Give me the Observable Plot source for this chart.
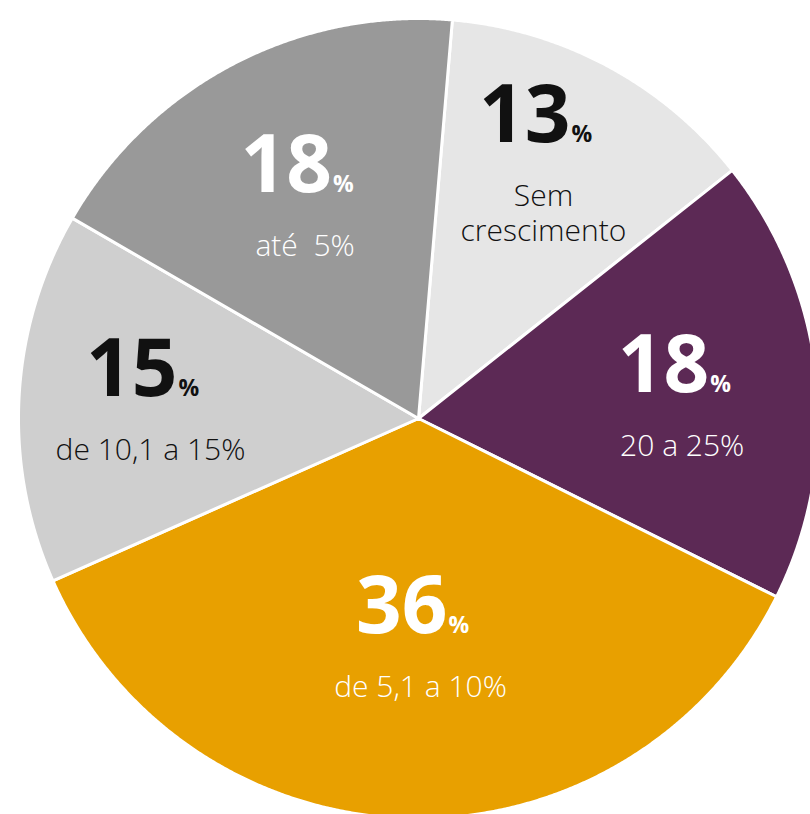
<!DOCTYPE html>
<html>
<head>
<meta charset="utf-8">
<script src="https://cdn.jsdelivr.net/npm/d3@7"></script>
<script src="https://cdn.jsdelivr.net/npm/@observablehq/plot@0.6"></script>
<style>
  html, body { margin: 0; padding: 0; background: #fff; overflow: hidden; }
  #chart svg { display: block; }
</style>
</head>
<body>
<div id="chart"></div>
<script>
// ---- data (clockwise from the top) ----
const categories = ["Sem crescimento", "20 a 25%", "de 5,1 a 10%", "de 10,1 a 15%", "até  5%"];
const subtitles = ["Sem\ncrescimento", "20 a 25%", "de 5,1 a 10%", "de 10,1 a 15%", "até  5%"];
const values = [13, 18, 36, 15, 18];

// ---- style / layout ----
const colors = {
  "Sem crescimento": "#e6e6e6",
  "20 a 25%": "#5c2955",
  "de 5,1 a 10%": "#e8a000",
  "de 10,1 a 15%": "#cfcfcf",
  "até  5%": "#999999"
};
const textColors = {
  "Sem crescimento": "#111111",
  "20 a 25%": "#ffffff",
  "de 5,1 a 10%": "#ffffff",
  "de 10,1 a 15%": "#111111",
  "até  5%": "#ffffff"
};
// label placement: radius and angle nudge (degrees)
const labelLayout = {
  "Sem crescimento": {r: 303, da: -3.9},
  "20 a 25%": {r: 265, da: 0.3},
  "de 5,1 a 10%": {r: 215, da: -1.8},
  "de 10,1 a 15%": {r: 269, da: 1.8},
  "até  5%": {r: 253, da: 0.9}
};
const W = 810, H = 814;
const R = 400;            // pie radius in plot units (1 unit = 1px)
const CX = 418, CY = 418; // centre position in the frame
const startDeg = 4.86;    // rotation of the first slice boundary from north

const total = d3.sum(values);
const rad = d => d * Math.PI / 180;

// build slices
let acc = startDeg;
const slices = categories.map((c, i) => {
  const a0 = acc;
  const a1 = acc + values[i] / total * 360;
  acc = a1;
  const pts = [{x: 0, y: 0}];
  const n = Math.max(2, Math.ceil((a1 - a0) / 0.25));
  for (let k = 0; k <= n; k++) {
    const a = rad(a0 + (a1 - a0) * k / n);
    pts.push({x: R * Math.sin(a), y: R * Math.cos(a)});
  }
  pts.push({x: 0, y: 0});
  const L = labelLayout[c];
  const am = rad((a0 + a1) / 2 + L.da);
  return {
    category: c, value: values[i], subtitle: subtitles[i], pts,
    lx: L.r * Math.sin(am), ly: L.r * Math.cos(am)
  };
});

const numFont = "'Open Sans', sans-serif";

const plot = Plot.plot({
  width: W,
  height: H,
  margin: 0,
  x: {domain: [-CX, W - CX], axis: null},
  y: {domain: [-(H - CY), CY], axis: null},
  style: {background: "#fff"},
  marks: [
    ...slices.map(s => Plot.line(s.pts, {
      x: "x", y: "y",
      fill: colors[s.category],
      stroke: "#ffffff",
      strokeWidth: 3,
      strokeLinejoin: "round",
      curve: "linear"
    })),
    // big numbers
    Plot.text(slices, {
      x: "lx", y: "ly",
      text: d => String(d.value),
      fill: d => textColors[d.category],
      textAnchor: "end",
      dx: 27,
      lineAnchor: "bottom",
      fontSize: 80,
      fontWeight: 700,
      fontFamily: numFont
    }),
    // small percent sign
    Plot.text(slices, {
      x: "lx", y: "ly",
      text: () => "%",
      fill: d => textColors[d.category],
      textAnchor: "start",
      dx: 28,
      lineAnchor: "bottom",
      fontSize: 23,
      fontWeight: 700,
      fontFamily: numFont
    }),
    // subtitles
    Plot.text(slices, {
      x: "lx", y: "ly",
      text: "subtitle",
      fill: d => textColors[d.category],
      textAnchor: "middle",
      lineAnchor: "top",
      dy: 39,
      lineHeight: 1.17,
      fontSize: 30,
      fontWeight: 300,
      fontFamily: numFont
    })
  ]
});
// tighten the big numbers
plot.querySelectorAll("text").forEach(t => {
  if (t.getAttribute("font-size") === "80") t.setAttribute("letter-spacing", "-7");
});
document.getElementById("chart").appendChild(plot);
</script>
</body>
</html>
